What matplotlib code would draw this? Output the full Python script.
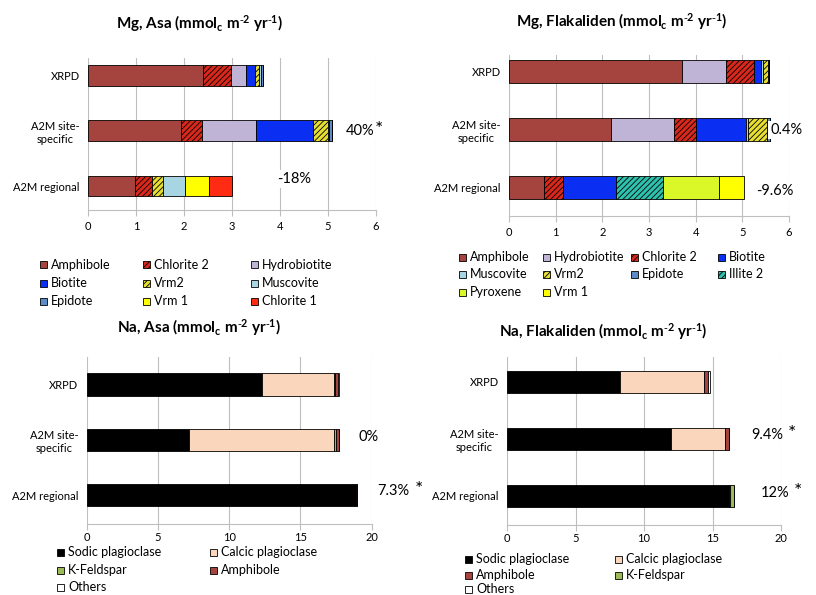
import numpy as np
import matplotlib.pyplot as plt
from matplotlib.patches import Rectangle

plt.rcParams['font.family'] = ['Lato', 'DejaVu Sans']
plt.rcParams['mathtext.default'] = 'regular'
plt.rcParams['hatch.linewidth'] = 0.6

W, H = 816, 595

sites = ['XRPD', 'A2M site-\nspecific', 'A2M regional']

# Mg, Asa  (columns: XRPD, A2M site-specific, A2M regional)
mg_asa_minerals = ['Amphibole', 'Chlorite 2', 'Hydrobiotite', 'Biotite', 'Vrm2',
                   'Muscovite', 'Epidote', 'Vrm 1', 'Chlorite 1']
mg_asa_values = [
    [2.40, 1.93, 0.98],
    [0.58, 0.45, 0.35],
    [0.32, 1.11, 0.00],
    [0.18, 1.20, 0.00],
    [0.09, 0.32, 0.23],
    [0.04, 0.02, 0.47],
    [0.03, 0.05, 0.00],
    [0.00, 0.00, 0.49],
    [0.00, 0.00, 0.47],
]
mg_asa_labels = ['40%', '-18%']

# Mg, Flakaliden
mg_fla_minerals = ['Amphibole', 'Hydrobiotite', 'Chlorite 2', 'Biotite', 'Muscovite',
                   'Vrm2', 'Epidote', 'Illite 2', 'Pyroxene', 'Vrm 1']
mg_fla_values = [
    [3.70, 2.18, 0.76],
    [0.96, 1.35, 0.00],
    [0.58, 0.48, 0.39],
    [0.15, 1.07, 1.14],
    [0.06, 0.05, 0.00],
    [0.11, 0.40, 0.00],
    [0.01, 0.06, 0.00],
    [0.00, 0.00, 1.02],
    [0.00, 0.00, 1.19],
    [0.00, 0.00, 0.535],
]
mg_fla_labels = ['0.4%', '-9.6%']

# Na, Asa
na_asa_minerals = ['Sodic plagioclase', 'Calcic plagioclase', 'K-Feldspar', 'Amphibole', 'Others']
na_asa_values = [
    [12.30, 7.16, 18.91],
    [5.07, 10.21, 0.00],
    [0.10, 0.12, 0.00],
    [0.20, 0.23, 0.10],
    [0.05, 0.00, 0.00],
]
na_asa_labels = ['0%', '7.3%']

# Na, Flakaliden
na_fla_minerals = ['Sodic plagioclase', 'Calcic plagioclase', 'Amphibole', 'K-Feldspar', 'Others']
na_fla_values = [
    [8.26, 11.98, 16.18],
    [6.14, 3.93, 0.00],
    [0.30, 0.28, 0.08],
    [0.00, 0.00, 0.32],
    [0.10, 0.00, 0.00],
]
na_fla_labels = ['9.4%', '12%']

styles = {
    'Amphibole': ('#A5443F', None),
    'Chlorite 2': ('#D8281C', '//////'),
    'Hydrobiotite': ('#BFB3D6', None),
    'Biotite': ('#0A2FF2', None),
    'Vrm2': ('#E6DF32', '//////'),
    'Muscovite': ('#A8D5E2', None),
    'Epidote': ('#5E8BC8', None),
    'Vrm 1': ('#FFFF00', None),
    'Chlorite 1': ('#FF2B12', None),
    'Illite 2': ('#2EC1AE', '//////'),
    'Pyroxene': ('#DAF727', None),
    'Sodic plagioclase': ('#000000', None),
    'Calcic plagioclase': ('#FAD6BC', None),
    'K-Feldspar': ('#9BBB59', None),
    'Others': ('#FFFFFF', None),
}

unit = r'(mmol$_{c}$ m$^{\text{-}2}$ yr$^{\text{-}1}$)'

fig = plt.figure(figsize=(W / 100, H / 100), dpi=100)


def panel(x0, x1, xmax, step, top, bottom, c0, sp, bar_h, minerals, values, pad=4):
    ax = fig.add_axes([x0 / W, 1 - bottom / H, (x1 - x0) / W, (bottom - top) / H])
    y = np.arange(len(sites))
    left = np.zeros(len(sites))
    for name, vals in zip(minerals, values):
        col, hatch = styles[name]
        ax.barh(y, vals, left=left, height=bar_h, color=col, edgecolor='black',
                linewidth=0.6, hatch=hatch, zorder=2)
        left += np.array(vals)
    ax.set_xlim(0, xmax)
    ax.set_ylim((bottom - c0) / sp, (top - c0) / sp)
    ax.set_xticks(np.arange(0, xmax + 0.01, step))
    ax.set_xticklabels([f'{v:g}' for v in np.arange(0, xmax + 0.01, step)])
    ax.set_yticks(y)
    ax.set_yticklabels(sites, fontsize=8)
    for lab in ax.get_yticklabels():
        lab.set_multialignment('center')
    ax.grid(axis='x', color='#BEBEBE', linewidth=0.8, zorder=0)
    ax.set_axisbelow(True)
    for s in ['top', 'right', 'left']:
        ax.spines[s].set_visible(False)
    ax.spines['bottom'].set_color('#BEBEBE')
    ax.tick_params(axis='x', colors='#BEBEBE', labelcolor='black', labelsize=8,
                   length=4, width=0.8, pad=pad)
    ax.tick_params(axis='y', length=0, pad=6)
    return ax, left


def note(ax, x, y, text, star=False, star_dx=0.0):
    ax.text(x, y, text, fontsize=10.5, va='center', ha='left', clip_on=False,
            bbox=dict(fc='white', ec='none', pad=1.5), zorder=3)
    if star:
        ax.text(x + star_dx, y - 0.03, '*', fontsize=14, va='center', ha='left',
                clip_on=False, bbox=dict(fc='white', ec='none', pad=0.5), zorder=3)


def legend(entries, xs, ys):
    # entries laid out row by row over the given column positions
    for k, name in enumerate(entries):
        r, c = divmod(k, len(xs))
        col, hatch = styles[name]
        px, py = xs[c], ys[r]
        fig.patches.append(Rectangle((px / W, 1 - (py + 3.5) / H), 7 / W, 7 / H,
                                     transform=fig.transFigure, facecolor=col,
                                     edgecolor='black', linewidth=0.6, hatch=hatch))
        fig.text((px + 11) / W, 1 - py / H, name, fontsize=9, va='center', ha='left')


# Mg, Asa
ax1, tot1 = panel(88, 376, 6, 1, 58, 210, 75.8, 55.1, 0.38, mg_asa_minerals, mg_asa_values)
note(ax1, 5.38, 1, mg_asa_labels[0], star=True, star_dx=0.6)
note(ax1, 3.95, 1.88, mg_asa_labels[1])
fig.text(200 / W, 1 - 24 / H, 'Mg, Asa ' + unit, fontsize=11,
         fontweight='bold', ha='center', va='center')
legend(['Amphibole', 'Chlorite 2', 'Hydrobiotite', 'Biotite', 'Vrm2', 'Muscovite',
        'Epidote', 'Vrm 1', 'Chlorite 1'], [40, 143, 251], [265, 283, 301])

# Mg, Flakaliden
ax2, tot2 = panel(509, 789, 6, 1, 55, 215.7, 71.7, 58, 0.40, mg_fla_minerals, mg_fla_values)
note(ax2, 5.6, 1, mg_fla_labels[0])
note(ax2, 5.3, 2.05, mg_fla_labels[1])
fig.text(622 / W, 1 - 22 / H, 'Mg, Flakaliden ' + unit, fontsize=11,
         fontweight='bold', ha='center', va='center')
legend(['Amphibole', 'Hydrobiotite', 'Chlorite 2', 'Biotite', 'Muscovite', 'Vrm2',
        'Epidote', 'Illite 2', 'Pyroxene', 'Vrm 1'], [459, 543, 631, 718], [257, 274, 292])

# Na, Asa
ax3, tot3 = panel(86.7, 371.5, 20, 5, 357, 524, 384.5, 55.4, 0.40, na_asa_minerals,
                  na_asa_values, pad=2)
note(ax3, 19.1, 0.95, na_asa_labels[0])
note(ax3, 20.4, 1.92, na_asa_labels[1], star=True, star_dx=2.65)
fig.text(199 / W, 1 - 328 / H, 'Na, Asa ' + unit, fontsize=11,
         fontweight='bold', ha='center', va='center')
legend(['Sodic plagioclase', 'Calcic plagioclase', 'K-Feldspar', 'Amphibole', 'Others'],
       [57, 210], [552, 570, 587])

# Na, Flakaliden
ax4, tot4 = panel(507, 781, 20, 5, 357, 525, 382, 57, 0.39, na_fla_minerals,
                  na_fla_values, pad=2)
note(ax4, 17.8, 0.93, na_fla_labels[0], star=True, star_dx=2.7)
note(ax4, 18.5, 1.95, na_fla_labels[1], star=True, star_dx=2.4)
fig.text(603 / W, 1 - 332 / H, 'Na, Flakaliden ' + unit, fontsize=11,
         fontweight='bold', ha='center', va='center')
legend(['Sodic plagioclase', 'Calcic plagioclase', 'Amphibole', 'K-Feldspar', 'Others'],
       [465, 615], [559, 575, 589])

fig.savefig('out.png', dpi=100)
